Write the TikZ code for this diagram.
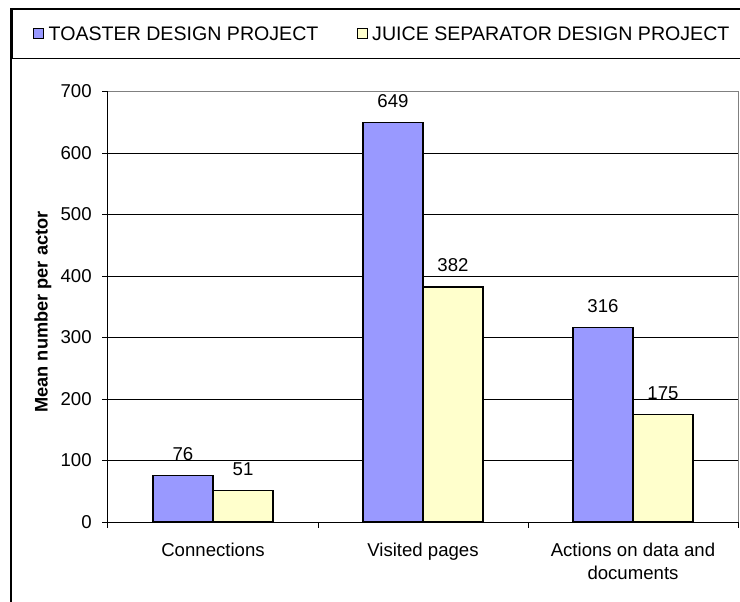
\documentclass[tikz,border=0pt]{standalone}
\usepackage{fontspec}
\setmainfont{Liberation Sans}
\setsansfont{Liberation Sans}
\usetikzlibrary{positioning}

\definecolor{toaster}{RGB}{153,153,255}
\definecolor{juice}{RGB}{255,255,204}
\definecolor{border}{RGB}{128,128,128}

\begin{document}
\begin{tikzpicture}[y=0.3075pt, x=105pt, font=\sffamily\fontsize{9.3}{11.5}\selectfont,
    bar/.style={draw=black, line width=0.6pt},
    val/.style={above=4pt},
    keybox/.style={draw=black, line width=0.5pt, minimum size=5pt, inner sep=0pt},
    keytext/.style={inner sep=2pt, font=\sffamily\fontsize{9.8}{11.5}\selectfont}]
    \useasboundingbox (-54pt,-39.5pt) rectangle (316pt,261pt);
    \clip (-54pt,-39.5pt) rectangle (316pt,261pt);

    % frame and legend
    \draw[line width=0.6pt] (-48.5pt,-45pt) -- (-48.5pt,256.5pt) -- (320pt,256.5pt);
    \draw[line width=0.5pt] (-47.5pt,256pt) rectangle (320pt,231.5pt);
    \node[keybox, fill=toaster] (tkey) at (-34.6pt,244pt) {};
    \node[keytext, right=0pt of tkey] (tlabel) {TOASTER DESIGN PROJECT};
    \node[keybox, fill=juice, right=17pt of tlabel] (jkey) {};
    \node[keytext, right=0pt of jkey] (jlabel) {JUICE SEPARATOR DESIGN PROJECT};

    % grid
    \foreach \y in {100,200,...,600} {
      \draw[line width=0.5pt] (0,\y) -- (3,\y);
    }
    \draw[border, line width=0.5pt] (0,700) -- (3,700) -- (3,0);

    % axis
    \draw[line width=0.5pt] (0,700) -- (0,0) -- (3,0);
    \foreach \y in {0,100,...,700} {
      \draw[line width=0.5pt] (0,\y) -- ++(-3.2pt,0) node[anchor=east, xshift=-1.4pt] {\y};
    }
    \foreach \x in {0,1,2,3} {
      \draw[line width=0.5pt] (\x,0) -- ++(0,-3pt);
    }
    \node[rotate=90, font=\sffamily\bfseries\fontsize{9.1}{11}\selectfont] (ylabel) at (-32.5pt,105pt) {Mean number per actor};

    % bars
    \draw[bar, fill=toaster] (0.2143,0) rectangle (0.5,76);
    \draw[bar, fill=juice] (0.5,0) rectangle (0.7857,51);
    \node[val] (c76) at (0.3571,76) {76};
    \node[val] (c51) at (0.6429,51) {51};

    \draw[bar, fill=toaster] (1.2143,0) rectangle (1.5,649);
    \draw[bar, fill=juice] (1.5,0) rectangle (1.7857,382);
    \node[val] (v649) at (1.3571,649) {649};
    \node[val] (v382) at (1.6429,382) {382};

    \draw[bar, fill=toaster] (2.2143,0) rectangle (2.5,316);
    \draw[bar, fill=juice] (2.5,0) rectangle (2.7857,175);
    \node[val] (a316) at (2.3571,316) {316};
    \node[val] (a175) at (2.6429,175) {175};

    % categories
    \node[anchor=north] (conn) at ([yshift=-7pt]0.5,0) {Connections};
    \node[anchor=north] (visit) at ([yshift=-7pt]1.5,0) {Visited pages};
    \node[anchor=north, align=center] (act) at ([yshift=-7pt]2.5,0) {Actions on data and\\documents};
\end{tikzpicture}
\end{document}
